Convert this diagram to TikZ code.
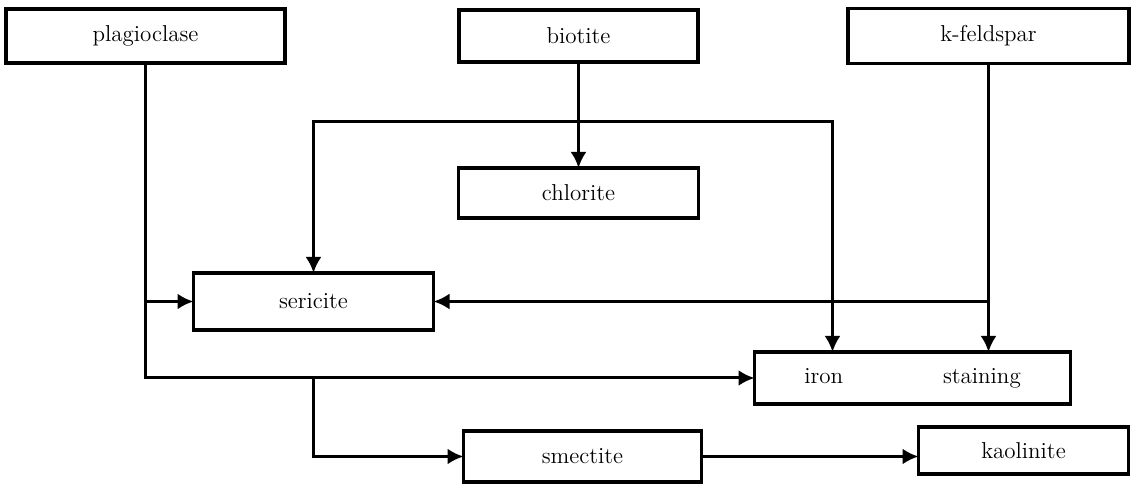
\documentclass[tikz,border=0pt]{standalone}
\usepackage{tikz}
\usetikzlibrary{positioning,arrows.meta}
\tikzstyle{MineralBox}=[rectangle, draw=black, line width=1.6pt, outer sep=0pt, minimum height=26pt, inner sep=2pt, font=\fontsize{11.5}{14}\selectfont]
\tikzstyle{FlowLine}=[line width=1.5pt]
\tikzstyle{FlowArrow}=[-{Latex[length=8pt,width=8pt]}, line width=1.5pt]

\begin{document}
\begin{tikzpicture}
			\useasboundingbox (0,0) rectangle (566.5pt,-242.5pt);

			%Nodes
			\node[MineralBox, minimum width=139.5pt, minimum height=27pt]	(plag)		at (72.75pt,-18pt)		{plagioclase};
			\node[MineralBox, minimum width=119.5pt]		(biotite)	[right=87pt of plag]		{biotite};
			\node[MineralBox, minimum width=140.5pt, minimum height=27.5pt]	(kfeld)		[right=75pt of biotite]	{k-feldspar};

			\node[MineralBox, minimum width=120pt, minimum height=25pt]	(chlorite)	[below=53pt of biotite]	{chlorite};
			\node[MineralBox, minimum width=120pt, minimum height=28.5pt]	(sericite)	[below=105pt of plag, xshift=84pt]	{sericite};

			\node[MineralBox, minimum width=158pt]		(iron)		[right=160.5pt of sericite, yshift=-38.25pt]	{iron\hspace{50pt}staining};
			\node[MineralBox, minimum width=119pt, minimum height=25.5pt]	(smectite)	[below=106.5pt of chlorite, xshift=2pt]	{smectite};
			\node[MineralBox, minimum width=105pt, minimum height=23.5pt]	(kaolinite)	[right=108.5pt of smectite, yshift=3pt]	{kaolinite};

			\coordinate[below=30pt of biotite.south]	(bioSplit);
			\coordinate[right=39pt of iron.north west]	(ironTop);

			%Lines
			\draw[FlowArrow] (plag.south) |- (iron.west);
			\draw[FlowArrow] (plag.south |- sericite.west) -- (sericite.west);
			\draw[FlowArrow] (sericite.south |- iron.west) |- (smectite.west);
			\draw[FlowArrow] (smectite.east) -- (smectite.east -| kaolinite.west);

			\draw[FlowArrow] (biotite.south) -- (biotite.south |- chlorite.north);
			\draw[FlowArrow] (bioSplit) -| (sericite.north);
			\draw[FlowArrow] (bioSplit) -| (ironTop);

			\draw[FlowArrow] (kfeld.south) -- (kfeld.south |- iron.north);
			\draw[FlowArrow] (kfeld.south |- sericite.east) -- (sericite.east);

\end{tikzpicture}
\end{document}
